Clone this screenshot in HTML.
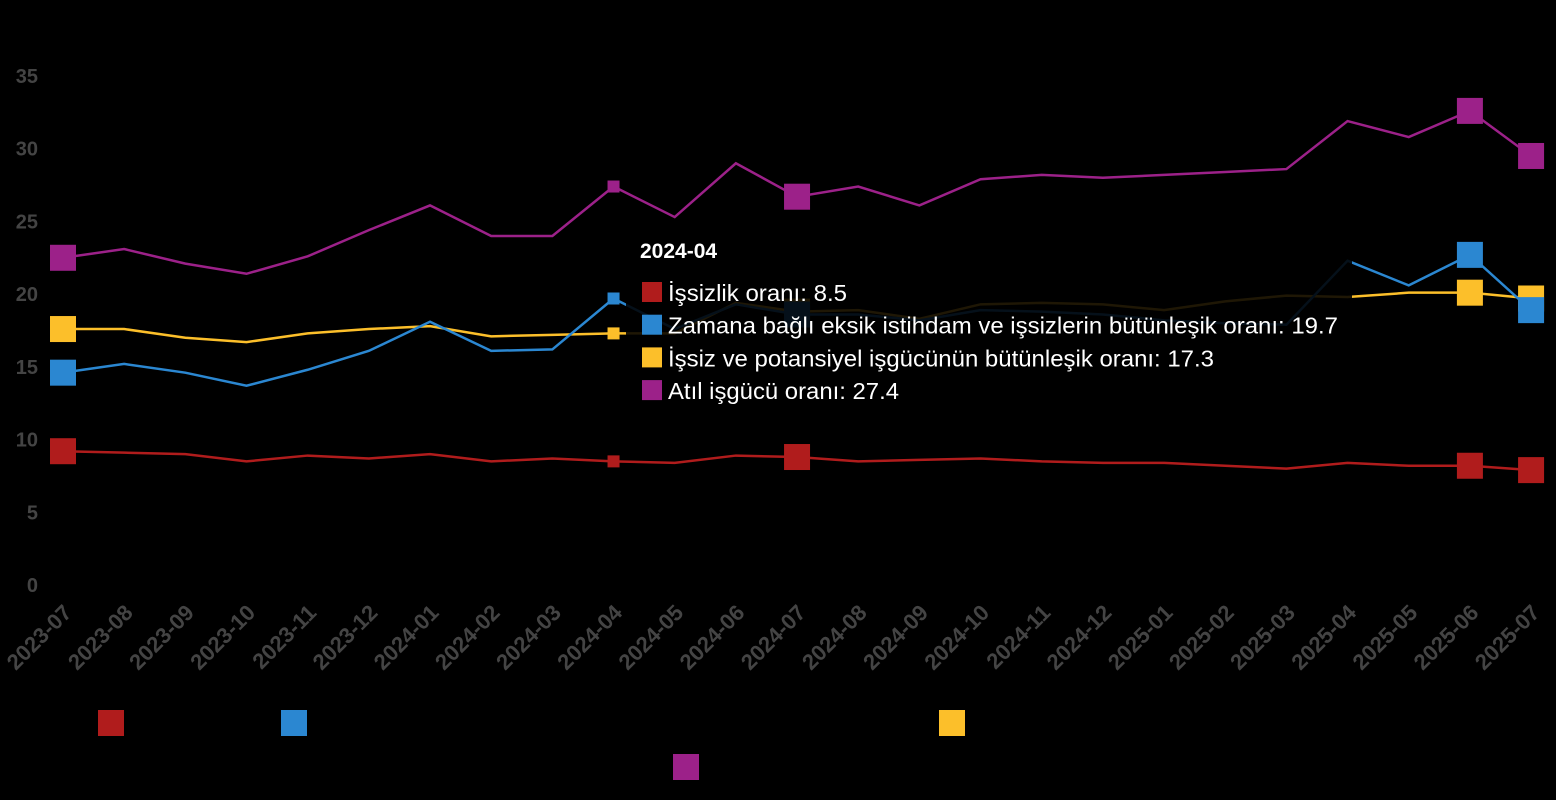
<!DOCTYPE html>
<html><head><meta charset="utf-8"><style>
html,body{margin:0;padding:0;background:#000;}
svg{display:block;font-family:"Liberation Sans",sans-serif;}
</style></head><body>
<svg width="1556" height="800" viewBox="0 0 1556 800">
<rect width="1556" height="800" fill="#000"/>
<g id="c"></g>
</svg>
<script>
const ns="http://www.w3.org/2000/svg";
const g=document.getElementById("c");
function el(t,a,txt){const e=document.createElementNS(ns,t);for(const k in a)e.setAttribute(k,a[k]);if(txt!==undefined)e.textContent=txt;g.appendChild(e);return e;}
const X=i=>63+i*61.17, Y=v=>585-v*14.543;
for(let v=0;v<=35;v+=5) el("text",{x:38,y:Y(v)+7,"text-anchor":"end","font-size":20,"font-weight":"bold",fill:"#444"},v);
const labels=[];for(let i=0;i<25;i++){let m=7+i,y=2023+Math.floor((m-1)/12);m=((m-1)%12)+1;labels.push(y+"-"+String(m).padStart(2,"0"));}
labels.forEach((l,i)=>{el("text",{x:0,y:0,transform:`translate(${X(i)+10},${614}) rotate(-45)`,"text-anchor":"end","font-size":22,"font-weight":"bold",fill:"#444"},l);});
const S=[
["#fcbf2a",[17.6,17.6,17.0,16.7,17.3,17.6,17.8,17.1,17.2,17.3,17.3,19.4,18.8,18.9,18.3,19.3,19.4,19.3,18.9,19.5,19.9,19.8,20.1,20.1,19.7]],
["#2b87d1",[14.6,15.2,14.6,13.7,14.8,16.1,18.1,16.1,16.2,19.7,17.6,19.3,18.6,18.6,18.2,18.9,18.8,18.6,18.2,18.0,17.9,22.3,20.6,22.7,18.9]],
["#b01c1c",[9.2,9.1,9.0,8.5,8.9,8.7,9.0,8.5,8.7,8.5,8.4,8.9,8.8,8.5,8.6,8.7,8.5,8.4,8.4,8.2,8.0,8.4,8.2,8.2,7.9]],
["#9c2189",[22.5,23.1,22.1,21.4,22.6,24.4,26.1,24.0,24.0,27.4,25.3,29.0,26.7,27.4,26.1,27.9,28.2,28.0,28.2,28.4,28.6,31.9,30.8,32.6,29.5]]];
S.forEach(([c,d])=>{
 el("polyline",{points:d.map((v,i)=>X(i)+","+Y(v)).join(" "),fill:"none",stroke:c,"stroke-width":2.5});
 [0,12,23,24].forEach(i=>el("rect",{x:X(i)-13,y:Y(d[i])-13,width:26,height:26,fill:c}));
 el("rect",{x:X(9)-6,y:Y(d[9])-6,width:12,height:12,fill:c});
});
el("rect",{x:626,y:228,width:726,height:184,fill:"#000","fill-opacity":0.88});
el("text",{x:640,y:258,"font-size":21,"font-weight":"bold",fill:"#fff"},"2024-04");
const tt=[["#b01c1c","İşsizlik oranı: 8.5",179],["#2b87d1","Zamana bağlı eksik istihdam ve işsizlerin bütünleşik oranı: 19.7",670],["#fcbf2a","İşsiz ve potansiyel işgücünün bütünleşik oranı: 17.3",546],["#9c2189","Atıl işgücü oranı: 27.4",231]];
tt.forEach(([c,t,w],k)=>{const y=292+k*32.7;el("rect",{x:642,y:y-10,width:20,height:20,fill:c});el("text",{x:668,y:y+9,"font-size":23,fill:"#fff",textLength:w,lengthAdjust:"spacingAndGlyphs"},t);});
const lg=[[111,723,"#b01c1c","İşsizlik oranı"],[294,723,"#2b87d1","Zamana bağlı eksik istihdam ve işsizlerin bütünleşik oranı"],[952,723,"#fcbf2a","İşsiz ve potansiyel işgücünün bütünleşik oranı"],[686,767,"#9c2189","Atıl işgücü oranı"]];
lg.forEach(([x,y,c,t])=>{el("rect",{x:x-13,y:y-13,width:26,height:26,fill:c});el("text",{x:x+20,y:y+7,"font-size":20,fill:"#000"},t);});
</script>
</body></html>
